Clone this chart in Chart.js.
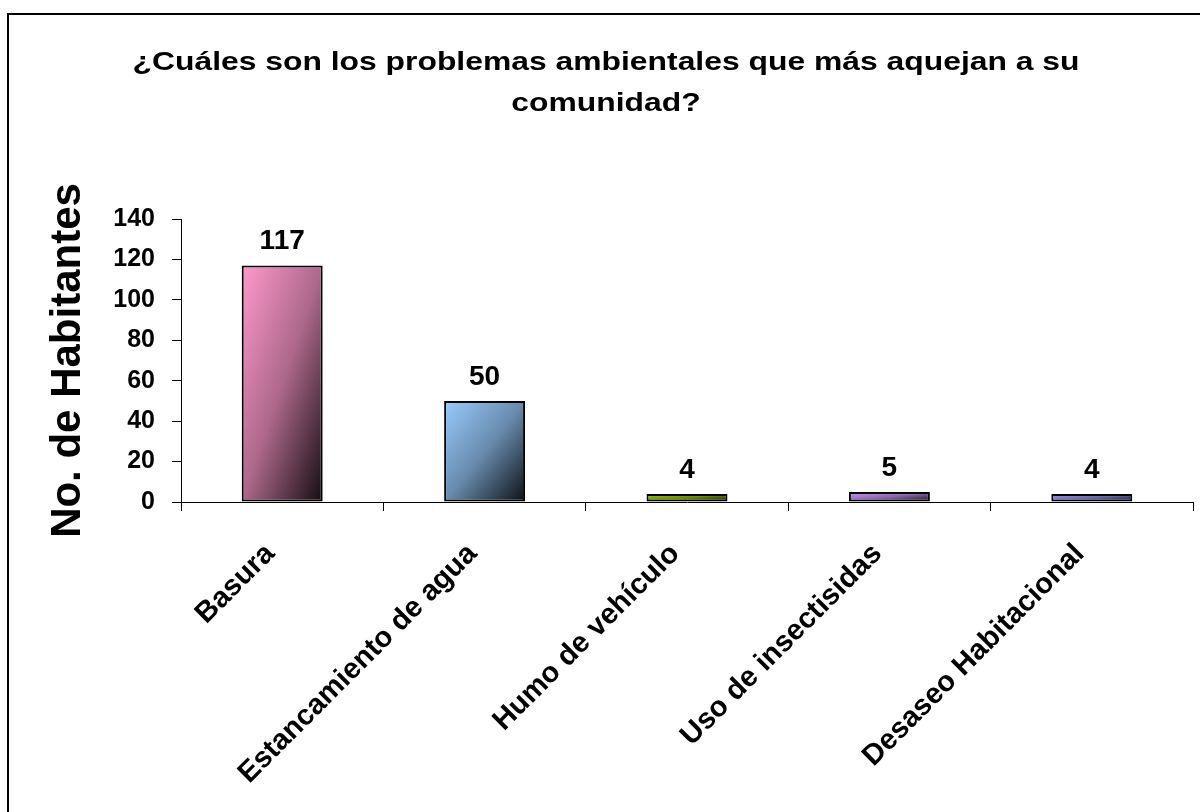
<!DOCTYPE html>
<html>
<head>
<meta charset="utf-8">
<script src="https://cdn.jsdelivr.net/npm/chart.js@4.4.1/dist/chart.umd.min.js"></script>
<style>
  html, body { margin: 0; padding: 0; background: #fff; }
  #wrap { width: 1200px; height: 812px; position: relative; }
</style>
</head>
<body>
<div id="wrap"><canvas id="chart" width="1200" height="812"></canvas></div>
<script>
// -----------------------------
// Data
// -----------------------------
const categories = ['Basura', 'Estancamiento de agua', 'Humo de vehículo', 'Uso de insectisidas', 'Desaseo Habitacional'];
const habitantes = [117, 50, 4, 5, 4];
const barColors = ['#ff99cc', '#99ccff', '#99cc00', '#cc99ff', '#9999ff'];
const yTicks = [0, 20, 40, 60, 80, 100, 120, 140];
const titleLines = ['¿Cuáles son los problemas ambientales que más aquejan a su', 'comunidad?'];

const FONT = 'Arial, "Liberation Sans", sans-serif';

function shade(hex, f) {
    const n = parseInt(hex.slice(1), 16);
    const r = Math.round(((n >> 16) & 255) * f);
    const g = Math.round(((n >> 8) & 255) * f);
    const b = Math.round((n & 255) * f);
    return `rgb(${r},${g},${b})`;
}

// -----------------------------
// Bar fill: diagonal gradient, light top-left -> dark bottom-right
// -----------------------------
function barGradient(context) {
    const chart = context.chart;
    const i = context.dataIndex;
    const xs = chart.scales.x, ys = chart.scales.y;
    if (!chart.chartArea || !xs || !ys || i === undefined) return barColors[i] || '#999';
    const cx = xs.getPixelForValue(i);
    const w = (xs.width / categories.length) * 0.4;
    const top = ys.getPixelForValue(habitantes[i]);
    const base = ys.getPixelForValue(0);
    const h = Math.max(base - top, 1);
    if (!isFinite(cx) || !isFinite(top)) return barColors[i];
    const cy = (top + base) / 2;
    const s = (w * h) / (w * w + h * h);
    const g = chart.ctx.createLinearGradient(cx - s * h, cy - s * w, cx + s * h, cy + s * w);
    g.addColorStop(0, barColors[i]);
    g.addColorStop(0.5, shade(barColors[i], 0.68));
    g.addColorStop(1, shade(barColors[i], 0.08));
    return g;
}

// -----------------------------
// Plugins: frame + title, value labels
// -----------------------------
const framePlugin = {
    id: 'frame',
    afterDraw(chart) {
        const ctx = chart.ctx;
        ctx.save();
        ctx.strokeStyle = '#000';
        ctx.lineWidth = 2;
        ctx.beginPath();
        ctx.moveTo(1200, 14);
        ctx.lineTo(8, 14);
        ctx.lineTo(8, 812);
        ctx.stroke();

        ctx.fillStyle = '#000';
        ctx.font = 'bold 26px ' + FONT;
        ctx.textAlign = 'center';
        ctx.textBaseline = 'middle';
        const sx = 947 / ctx.measureText(titleLines[0]).width;
        ctx.translate(606, 0);
        ctx.scale(sx, 1);
        ctx.fillText(titleLines[0], 0, 63);
        ctx.fillText(titleLines[1], 0, 104);
        ctx.restore();
    }
};

const valueLabels = {
    id: 'valueLabels',
    afterDatasetsDraw(chart) {
        const ctx = chart.ctx;
        const meta = chart.getDatasetMeta(0);
        ctx.save();
        ctx.fillStyle = '#000';
        ctx.font = 'bold 28px ' + FONT;
        ctx.textAlign = 'center';
        ctx.textBaseline = 'alphabetic';
        meta.data.forEach((bar, i) => {
            ctx.fillText(String(habitantes[i]), bar.x, bar.y - 16);
        });
        ctx.restore();
    }
};

// -----------------------------
// Chart
// -----------------------------
const ctx = document.getElementById('chart').getContext('2d');
new Chart(ctx, {
    type: 'bar',
    data: {
        labels: categories,
        datasets: [{
            data: habitantes,
            backgroundColor: barGradient,
            borderColor: '#000',
            borderWidth: 2,
            borderSkipped: false,
            categoryPercentage: 1,
            barPercentage: 0.4
        }]
    },
    options: {
        responsive: false,
        animation: false,
        layout: { padding: { top: 219, right: 7, bottom: 0, left: 0 } },
        plugins: {
            legend: { display: false },
            title: { display: false },
            tooltip: { enabled: false }
        },
        scales: {
            x: {
                grid: {
                    display: true,
                    drawOnChartArea: false,
                    drawTicks: true,
                    tickLength: 9,
                    color: '#000',
                    offset: true
                },
                border: { display: true, color: '#000', width: 1 },
                ticks: {
                    color: '#000',
                    font: { family: FONT, size: 29, weight: 'bold' },
                    maxRotation: 45,
                    minRotation: 45,
                    padding: 26,
                    labelOffset: -12,
                    autoSkip: false
                },
                afterFit(scale) { scale.height = 310; }
            },
            y: {
                min: 0,
                max: 140,
                afterBuildTicks(scale) { scale.ticks = yTicks.map(v => ({ value: v })); },
                grid: {
                    display: true,
                    drawOnChartArea: false,
                    drawTicks: true,
                    tickLength: 9,
                    color: '#000'
                },
                border: { display: true, color: '#000', width: 1 },
                ticks: {
                    color: '#000',
                    font: { family: FONT, size: 25, weight: 'bold' },
                    padding: 17
                },
                title: {
                    display: true,
                    text: 'No. de Habitantes',
                    color: '#000',
                    font: { family: FONT, size: 42, weight: 'bold' },
                    padding: { top: 43, bottom: 0 }
                },
                afterFit(scale) { scale.width = 181; }
            }
        }
    },
    plugins: [framePlugin, valueLabels]
});
</script>
</body>
</html>
